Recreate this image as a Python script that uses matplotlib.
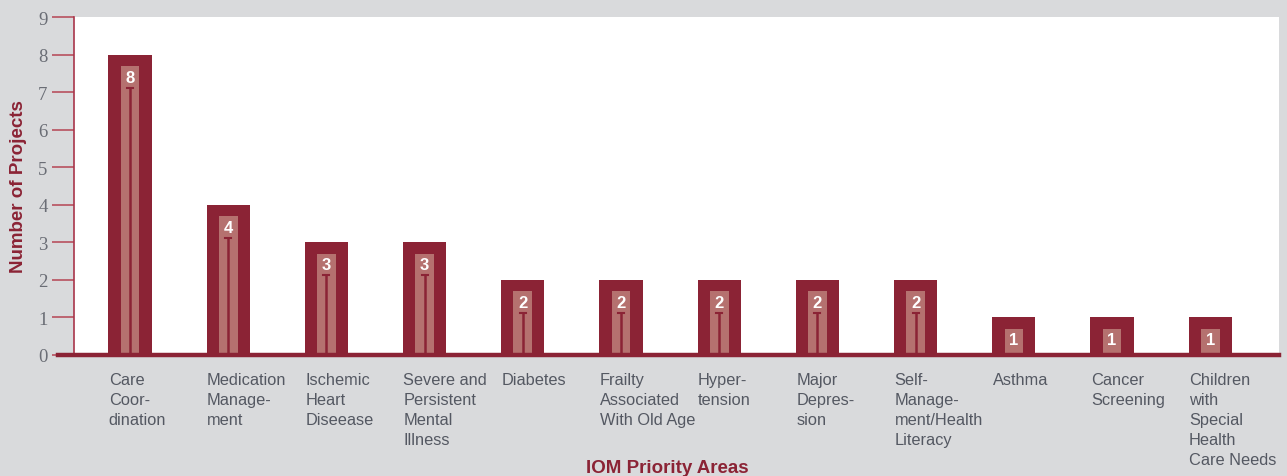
import numpy as np
import matplotlib.pyplot as plt

# Data
areas = ["Care\nCoor-\ndination", "Medication\nManage-\nment", "Ischemic\nHeart\nDiseease",
         "Severe and\nPersistent\nMental\nIllness", "Diabetes", "Frailty\nAssociated\nWith Old Age",
         "Hyper-\ntension", "Major\nDepres-\nsion", "Self-\nManage-\nment/Health\nLiteracy",
         "Asthma", "Cancer\nScreening", "Children\nwith\nSpecial\nHealth\nCare Needs"]
projects = [8, 4, 3, 3, 2, 2, 2, 2, 2, 1, 1, 1]
yticks = list(range(10))

dark = "#8b2335"
light = "#b5716f"
bg = "#d9dadc"
grey = "#545862"

fig = plt.figure(figsize=(12.87, 4.77), dpi=100, facecolor=bg)
ax = fig.add_axes([74 / 1287, 1 - 356 / 477, (1279 - 74) / 1287, (356 - 18) / 477])
ax.set_facecolor("white")

x = np.arange(len(projects))
w = 0.44
ax.bar(x, projects, width=w, color=dark, zorder=2)
inner = [v - 0.3 for v in projects]
ax.bar(x, inner, width=0.19, color=light, zorder=3)
for xi, v in zip(x, projects):
    if v > 1:
        ax.plot([xi, xi], [0, v - 0.88], color=dark, lw=1.8, zorder=4)
        ax.plot([xi - 0.03, xi + 0.03], [v - 0.88, v - 0.88], color=dark, lw=1.5, zorder=4)
    ax.text(xi, v - 0.6, str(v), ha="center", va="center", color="white",
            fontsize=12, fontweight="bold", family="Liberation Sans", zorder=5)

ax.set_xlim(-0.57, 11.70)
ax.set_ylim(0, 9)
ax.set_yticks(yticks)
ax.set_yticklabels([str(t) for t in yticks], family="Liberation Serif", fontsize=13.5, color="#6a6d75")
ax.tick_params(axis="y", length=16, width=1.2, color="#b8505f", pad=3)
ax.set_xticks([])

for s in ["top", "right"]:
    ax.spines[s].set_visible(False)
ax.spines["left"].set_color("#a8354a")
ax.spines["left"].set_linewidth(1.2)
ax.spines["bottom"].set_visible(False)
# thick baseline extending past the axis
ax.plot([-0.735, 11.70], [0, 0], color=dark, lw=3.2, clip_on=False, zorder=6)

for xi, lab in zip(x, areas):
    ax.annotate(lab, xy=(xi - w / 2, 0), xycoords=("data", "axes fraction"),
                xytext=(0.3, -12), textcoords="offset points", ha="left", va="top",
                fontsize=11.75, color=grey, family="Liberation Sans", linespacing=1.43)

ax.set_ylabel("Number of Projects", fontsize=13.5, fontweight="bold", color=dark,
              family="Liberation Sans")
ax.yaxis.set_label_coords(-0.039, 0.5)
fig.text(667 / 1287, 1 - 469 / 477, "IOM Priority Areas", ha="center", va="center",
         fontsize=13.5, fontweight="bold", color=dark, family="Liberation Sans")

fig.savefig("out.png", dpi=100, facecolor=bg)
